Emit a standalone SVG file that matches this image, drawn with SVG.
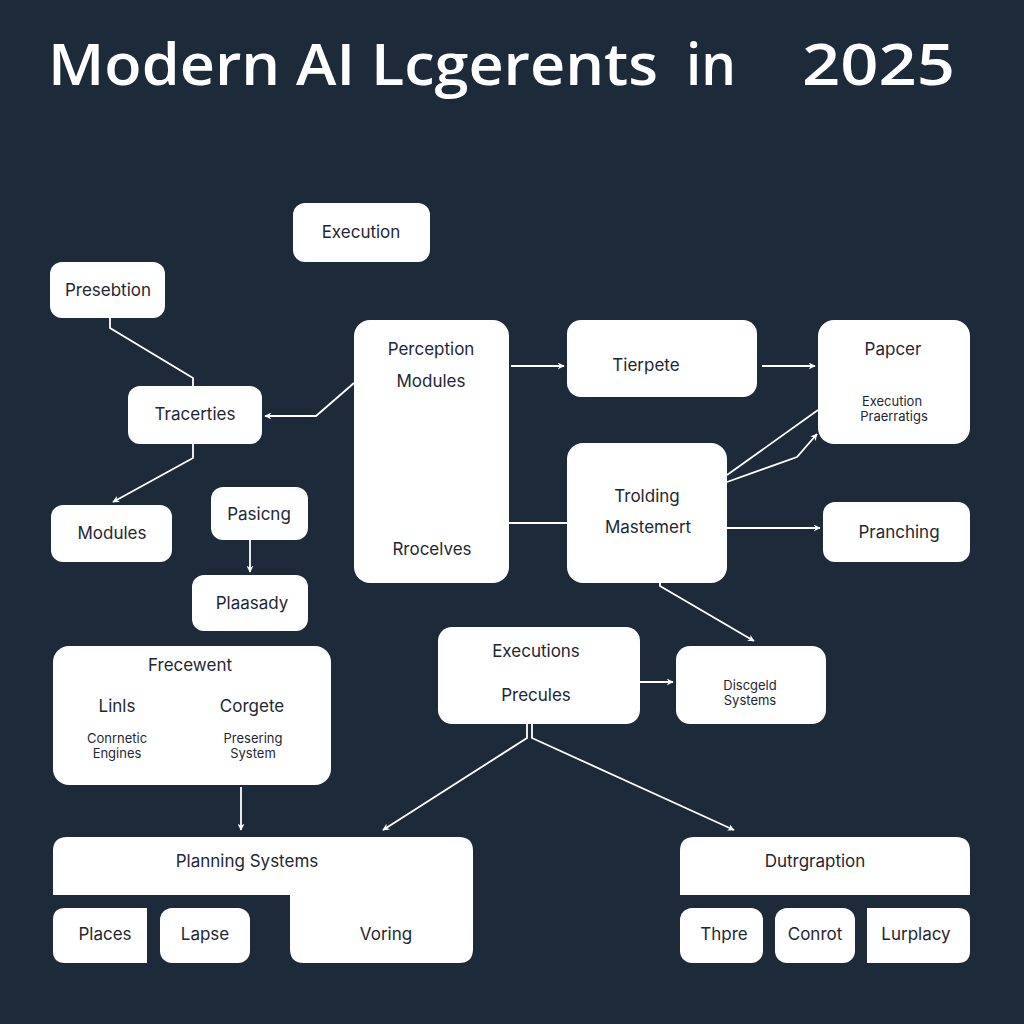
<svg xmlns="http://www.w3.org/2000/svg" width="1024" height="1024" viewBox="0 0 1024 1024">
<style>
.n{fill:#ffffff}
.t{font-family:Inter,"Liberation Sans",sans-serif;font-size:17px;fill:#1e2733;text-anchor:middle}
.s{font-family:Inter,"Liberation Sans",sans-serif;font-size:13px;fill:#1e2733;text-anchor:middle}
.ttl{font-family:"Open Sans","DejaVu Sans",sans-serif;font-size:58px;font-weight:600;fill:#ffffff}
.c{fill:none;stroke:#ffffff;stroke-width:1.8}
</style>
<defs>
<marker id="a" viewBox="0 0 10 10" refX="9" refY="5" markerWidth="7" markerHeight="7" orient="auto" markerUnits="userSpaceOnUse">
<path d="M0,0 L10,5 L0,10 L3,5 Z" fill="#ffffff"/>
</marker>
</defs>
<rect width="1024" height="1024" fill="#1c2a3a"/>
<g id="title">
<text class="ttl" x="48" y="85" textLength="610" lengthAdjust="spacingAndGlyphs">Modern AI Lcgerents</text>
<text class="ttl" x="686" y="85" textLength="50" lengthAdjust="spacingAndGlyphs">in</text>
<text class="ttl" x="802" y="85" textLength="153" lengthAdjust="spacingAndGlyphs">2025</text>
</g>
<g id="connectors">
<polyline class="c" points="110,318 110,328 193,378 193,386"/>
<polyline class="c" points="354,383 316,416 265,416" marker-end="url(#a)"/>
<polyline class="c" points="193,444 193,458 113,502" marker-end="url(#a)"/>
<polyline class="c" points="250,540 250,572" marker-end="url(#a)"/>
<polyline class="c" points="511,366 564,366" marker-end="url(#a)"/>
<polyline class="c" points="762,366 815,366" marker-end="url(#a)"/>
<polyline class="c" points="727,475 818,410"/>
<polyline class="c" points="727,482 797,457 817,434" marker-end="url(#a)"/>
<polyline class="c" points="509,523 567,523"/>
<polyline class="c" points="727,528 820,528" marker-end="url(#a)"/>
<polyline class="c" points="660,583 660,586 754,641" marker-end="url(#a)"/>
<polyline class="c" points="640,682 673,682" marker-end="url(#a)"/>
<polyline class="c" points="527,724 527,738 383,830" marker-end="url(#a)"/>
<polyline class="c" points="532,724 532,738 734,830" marker-end="url(#a)"/>
<polyline class="c" points="241,787 241,830" marker-end="url(#a)"/>
</g>
<g id="execution"><rect class="n" x="293" y="203" width="137" height="59" rx="12"/><text class="t" x="361" y="238">Execution</text></g>
<g id="presebtion"><rect class="n" x="50" y="262" width="115" height="56" rx="12"/><text class="t" x="108" y="296">Presebtion</text></g>
<g id="tracerties"><rect class="n" x="128" y="386" width="134" height="58" rx="12"/><text class="t" x="195" y="420">Tracerties</text></g>
<g id="perception"><rect class="n" x="354" y="320" width="155" height="263" rx="16"/><text class="t" x="431" y="355">Perception</text><text class="t" x="431" y="387">Modules</text><text class="t" x="432" y="555">Rrocelves</text></g>
<g id="tierpete"><rect class="n" x="567" y="320" width="190" height="77" rx="14"/><text class="t" x="646" y="371">Tierpete</text></g>
<g id="papcer"><rect class="n" x="818" y="320" width="152" height="124" rx="16"/><text class="t" x="893" y="355">Papcer</text><text class="s" x="892" y="406">Execution</text><text class="s" x="894" y="421">Praerratigs</text></g>
<g id="trolding"><rect class="n" x="567" y="443" width="160" height="140" rx="16"/><text class="t" x="647" y="502">Trolding</text><text class="t" x="648" y="533">Mastemert</text></g>
<g id="pranching"><rect class="n" x="823" y="502" width="147" height="60" rx="12"/><text class="t" x="899" y="538">Pranching</text></g>
<g id="modules"><rect class="n" x="51" y="505" width="121" height="57" rx="12"/><text class="t" x="112" y="539">Modules</text></g>
<g id="pasicng"><rect class="n" x="211" y="487" width="97" height="53" rx="12"/><text class="t" x="259" y="520">Pasicng</text></g>
<g id="plaasady"><rect class="n" x="192" y="575" width="116" height="56" rx="12"/><text class="t" x="252" y="609">Plaasady</text></g>
<g id="frecewent"><rect class="n" x="53" y="646" width="278" height="139" rx="16"/><text class="t" x="190" y="671">Frecewent</text><text class="t" x="117" y="712">Linls</text><text class="t" x="252" y="712">Corgete</text><text class="s" x="117" y="743">Conrnetic</text><text class="s" x="117" y="758">Engines</text><text class="s" x="253" y="743">Presering</text><text class="s" x="253" y="758">System</text></g>
<g id="executions"><rect class="n" x="438" y="627" width="202" height="97" rx="14"/><text class="t" x="536" y="657">Executions</text><text class="t" x="536" y="701">Precules</text></g>
<g id="discgeld"><rect class="n" x="676" y="646" width="150" height="78" rx="14"/><text class="s" x="750" y="690">Discgeld</text><text class="s" x="750" y="705">Systems</text></g>
<g id="planning">
<path class="n" d="M67,837 H459 Q473,837 473,851 V949 Q473,963 459,963 H304 Q290,963 290,949 V895 H53 V851 Q53,837 67,837 Z"/>
<text class="t" x="247" y="867">Planning Systems</text>
<text class="t" x="386" y="940">Voring</text>
</g>
<g id="places"><path class="n" d="M65,908 H147 V963 H65 Q53,963 53,951 V920 Q53,908 65,908 Z"/><text class="t" x="105" y="940">Places</text></g>
<g id="lapse"><rect class="n" x="160" y="908" width="90" height="55" rx="12"/><text class="t" x="205" y="940">Lapse</text></g>
<g id="dutrgraption"><path class="n" d="M694,837 H956 Q970,837 970,851 V895 H680 V851 Q680,837 694,837 Z"/><text class="t" x="815" y="867">Dutrgraption</text></g>
<g id="thpre"><rect class="n" x="680" y="908" width="83" height="55" rx="12"/><text class="t" x="724" y="940">Thpre</text></g>
<g id="conrot"><rect class="n" x="775" y="908" width="80" height="55" rx="12"/><text class="t" x="815" y="940">Conrot</text></g>
<g id="lurplacy"><path class="n" d="M867,908 H958 Q970,908 970,920 V951 Q970,963 958,963 H867 Z"/><text class="t" x="916" y="940">Lurplacy</text></g>
</svg>
